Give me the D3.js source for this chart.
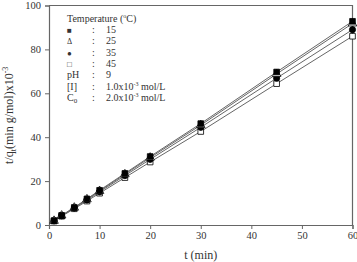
<!DOCTYPE html>
<html>
<head>
<meta charset="utf-8">
<script src="https://cdn.jsdelivr.net/npm/d3@7"></script>
<style>
  body { margin: 0; background: #fff; }
  text { font-family: "Liberation Serif", "Times New Roman", serif; fill: #333; }
</style>
</head>
<body>
<div id="chart"></div>
<script>
// time (min)
var times = [1, 2.5, 5, 7.5, 10, 15, 20, 30, 45, 60];
// t/qt values for each temperature
var t15 = [2.0, 4.4, 8.0, 11.9, 15.8, 23.5, 31.2, 46.2, 69.7, 92.8];
var t25 = [1.9, 4.3, 7.9, 11.7, 15.5, 23.1, 30.7, 45.5, 68.8, 91.8];
var t35 = [1.9, 4.2, 7.7, 11.4, 15.1, 22.5, 29.9, 44.5, 66.9, 89.0];
var t45 = [1.8, 4.0, 7.4, 10.9, 14.5, 21.6, 28.7, 42.6, 64.4, 86.0];
var xTicks = [0, 10, 20, 30, 40, 50, 60];
var yTicks = [0, 20, 40, 60, 80, 100];

var series = [
    { name: "45", values: t45, symbol: "square", filled: false },
    { name: "35", values: t35, symbol: "circle", filled: true },
    { name: "25", values: t25, symbol: "triangle", filled: false },
    { name: "15", values: t15, symbol: "square", filled: true }
];

var width = 357, height = 262;
var margin = { top: 5.5, right: 4.5, bottom: 37, left: 49 };

var svg = d3.select("#chart").append("svg")
    .attr("width", width)
    .attr("height", height);

var x = d3.scaleLinear().domain([0, 60]).range([margin.left, width - margin.right]);
var y = d3.scaleLinear().domain([0, 100]).range([height - margin.bottom, margin.top]);

var axisColor = "#666";

// frame (top and right)
svg.append("path")
    .attr("d", "M" + x(0) + "," + y(100) + "H" + x(60) + "V" + y(0))
    .attr("fill", "none")
    .attr("stroke", axisColor)
    .attr("stroke-width", 1.2);

var axisX = svg.append("g")
    .attr("transform", "translate(0," + y(0) + ")")
    .call(d3.axisBottom(x).tickValues(xTicks).tickSize(4).tickPadding(3));

var axisY = svg.append("g")
    .attr("transform", "translate(" + x(0) + ",0)")
    .call(d3.axisLeft(y).tickValues(yTicks).tickSize(4).tickPadding(4));

[axisX, axisY].forEach(function (a) {
    a.select(".domain").attr("stroke", axisColor).attr("stroke-width", 1.2);
    a.selectAll("line").attr("stroke", axisColor);
    a.selectAll("text")
        .attr("font-size", "10.5px")
        .attr("font-family", "Liberation Serif, Times New Roman, serif")
        .style("fill", "#333");
});

// lines
var line = d3.line()
    .x(function (d, i) { return x(times[i]); })
    .y(function (d) { return y(d); });

svg.selectAll(".fit")
    .data(series)
    .enter().append("path")
    .attr("class", "fit")
    .attr("d", function (d) { return line(d.values); })
    .attr("fill", "none")
    .attr("stroke", "#666")
    .attr("stroke-width", 1);

// markers
var symbolTypes = {
    square: d3.symbolSquare,
    circle: d3.symbolCircle,
    triangle: d3.symbolTriangle
};

series.forEach(function (s) {
    svg.append("g").selectAll("path")
        .data(s.values)
        .enter().append("path")
        .attr("transform", function (d, i) {
            return "translate(" + x(times[i]) + "," + y(d) + ")";
        })
        .attr("d", d3.symbol().type(symbolTypes[s.symbol]).size(s.symbol === "circle" ? 30 : 32))
        .attr("fill", s.filled ? "#000" : "#fff")
        .attr("stroke", "#000")
        .attr("stroke-width", 0.8);
});

// legend
var legendRows = [
    { label: "\u25A0", colon: ":", value: "15" },
    { label: "\u0394", colon: ":", value: "25" },
    { label: "\u25CF", colon: ":", value: "35" },
    { label: "\u25A1", colon: ":", value: "45" },
    { label: "pH", colon: ":", value: "9" },
    { label: "[I]", colon: ":", value: "1.0x10", sup: "-3", tail: " mol/L" },
    { label: "C", sub: "0", colon: ":", value: "2.0x10", sup: "-3", tail: " mol/L" }
];

var legend = svg.append("g").attr("font-size", "10px");

var title = legend.append("text").attr("x", 67).attr("y", 21.5);
title.append("tspan").text("Temperature (");
title.append("tspan").attr("font-size", "6px").attr("dy", -4).text("o");
title.append("tspan").attr("dy", 4).text("C)");

legendRows.forEach(function (r, i) {
    var yy = 33 + i * 11.3;
    var lab = legend.append("text").attr("x", 67).attr("y", yy);
    var isSym = i < 4;
    lab.append("tspan").attr("font-size", isSym ? "8px" : "10px").text(r.label);
    if (r.sub) lab.append("tspan").attr("font-size", "7px").attr("dy", 2).text(r.sub);
    legend.append("text").attr("x", 92).attr("y", yy).text(r.colon);
    var v = legend.append("text").attr("x", 106).attr("y", yy);
    v.append("tspan").text(r.value);
    if (r.sup) {
        v.append("tspan").attr("font-size", "6px").attr("dy", -4).text(r.sup);
        v.append("tspan").attr("dy", 4).text(r.tail);
    }
});

// axis titles
svg.append("text")
    .attr("x", (x(0) + x(60)) / 2)
    .attr("y", 259)
    .attr("text-anchor", "middle")
    .attr("font-size", "12px")
    .text("t (min)");

var yTitle = svg.append("text")
    .attr("transform", "translate(13," + ((y(0) + y(100)) / 2) + ") rotate(-90)")
    .attr("text-anchor", "middle")
    .attr("font-size", "12px");
yTitle.append("tspan").text("t/q");
yTitle.append("tspan").attr("font-size", "8px").attr("dy", 3).text("t");
yTitle.append("tspan").attr("dy", -3).text("(min g/mol)x10");
yTitle.append("tspan").attr("font-size", "8px").attr("dy", -5).text("-3");
</script>
</body>
</html>
